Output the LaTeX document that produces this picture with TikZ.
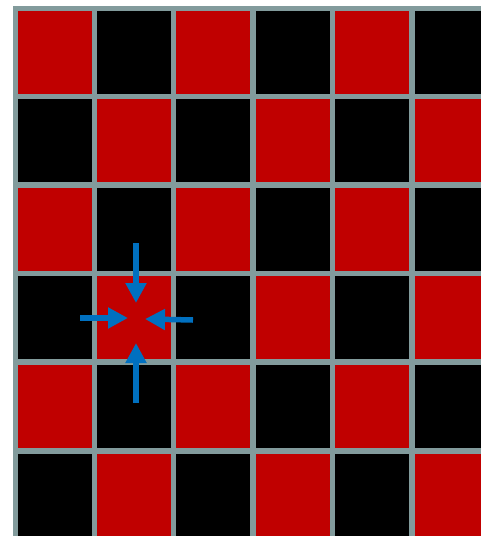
\documentclass[tikz,border=0pt]{standalone}
\usepackage{tikz}
\usetikzlibrary{arrows.meta}
\definecolor{cellred}{RGB}{192,0,0}
\definecolor{gridgray}{RGB}{130,155,156}
\definecolor{arrowblue}{RGB}{0,112,192}
\tikzstyle{cell} = [rectangle, draw=none, inner sep=0pt, outer sep=0pt, anchor=north west,
                    minimum width=74pt, minimum height=83pt]
\tikzstyle{redcell} = [cell, fill=cellred]
\tikzstyle{blackcell} = [cell, fill=black]
\tikzstyle{arrow} = [draw=arrowblue, line width=5.5pt, -{Triangle[length=20pt,width=20pt]}]

\begin{document}
\begin{tikzpicture}[x=1pt, y=-1pt]
  \useasboundingbox (0,0) rectangle (481,536);
  \clip (0,0) rectangle (481,536);
  \fill[gridgray] (13,6) rectangle (490,545);

  % board
  \foreach \i in {0,...,5} {
    \foreach \j in {0,...,5} {
      \pgfmathtruncatemacro{\parity}{mod(\i+\j,2)}
      \ifnum\parity=0
        \node (c-\i-\j) [redcell] at ({17.5+79.4*\i},{10.5+88.6*\j}) {};
      \else
        \node (c-\i-\j) [blackcell] at ({17.5+79.4*\i},{10.5+88.6*\j}) {};
      \fi
    }
  }

  % pushes towards the centre of one cell
  \coordinate (top) at (136,243);
  \coordinate (bottom) at (136,403);
  \coordinate (left) at (80,318);
  \coordinate (right) at (193,320);
  \coordinate (topin) at (136,303);
  \coordinate (bottomin) at (136,343);
  \coordinate (leftin) at (128,318);
  \coordinate (rightin) at (145,319);

  \draw [arrow] (top) -- (topin);
  \draw [arrow] (bottom) -- (bottomin);
  \draw [arrow] (left) -- (leftin);
  \draw [arrow] (right) -- (rightin);
\end{tikzpicture}
\end{document}
